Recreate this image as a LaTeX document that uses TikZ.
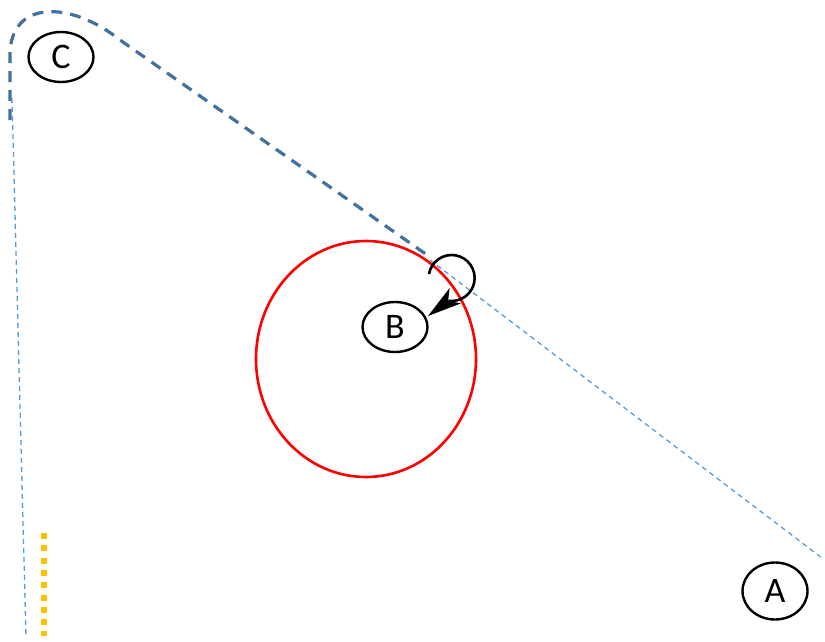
\documentclass[tikz,border=0pt]{standalone}
\usepackage{fontspec}
\setmainfont{Carlito}
\usetikzlibrary{arrows.meta,shapes.geometric}
\definecolor{pathblue}{HTML}{41719C}
\definecolor{lightblue}{HTML}{5B9BD5}
\definecolor{orbitred}{HTML}{FF0000}
\definecolor{markyellow}{HTML}{FFC000}

\begin{document}
\begin{tikzpicture}[x=1pt,y=-1pt,
        point/.style={ellipse, draw, line width=2.4pt, minimum width=65pt,
                      minimum height=50pt, inner sep=0pt,
                      font=\fontsize{36}{42}\selectfont},
        track/.style={draw=pathblue, line width=3.2pt,
                      dash pattern=on 11pt off 8pt},
        guide/.style={draw=lightblue, line width=1.3pt,
                      dash pattern=on 5pt off 4pt}]
  \useasboundingbox (0,0) rectangle (825,641);
  % points
  \node[point] (C) at (61,57) {C};
  \node[point] (B) at (395,327) {B};
  \node[point, minimum height=57pt] (A) at (775,591) {A};
  % guide lines
  \coordinate (g1) at (12,98);
  \coordinate (g2) at (26,637);
  \coordinate (g3) at (430,260);
  \coordinate (g4) at (822,558);
  \draw[guide] (g1) -- (g2);
  \draw[guide] (g3) -- (g4);
  % orbit
  \draw[orbitred, line width=2.6pt] (366,359) ellipse [x radius=110, y radius=118];
  % track
  \coordinate (t0) at (10,120);
  \coordinate (t1) at (10,55);
  \coordinate (t2) at (120,40);
  \coordinate (t3) at (430,257);
  \draw[track] (t0) -- (t1) .. controls (10,0) and (70,0) .. (t2) -- (t3);
  % turn marker
  \coordinate (turn) at (429,274);
  \draw[line width=2.6pt] (turn) arc[start angle=190, end angle=458, radius=23]
    coordinate (turnend);
  \draw[line width=2.6pt, -{Stealth[length=34pt, width=19pt, inset=9pt]}]
    (turnend) -- (428,316);
  % marker
  \coordinate (y1) at (44,533);
  \coordinate (y2) at (44,636);
  \draw[markyellow, line width=6pt, dash pattern=on 6pt off 6.3pt] (y1) -- (y2);
\end{tikzpicture}
\end{document}
